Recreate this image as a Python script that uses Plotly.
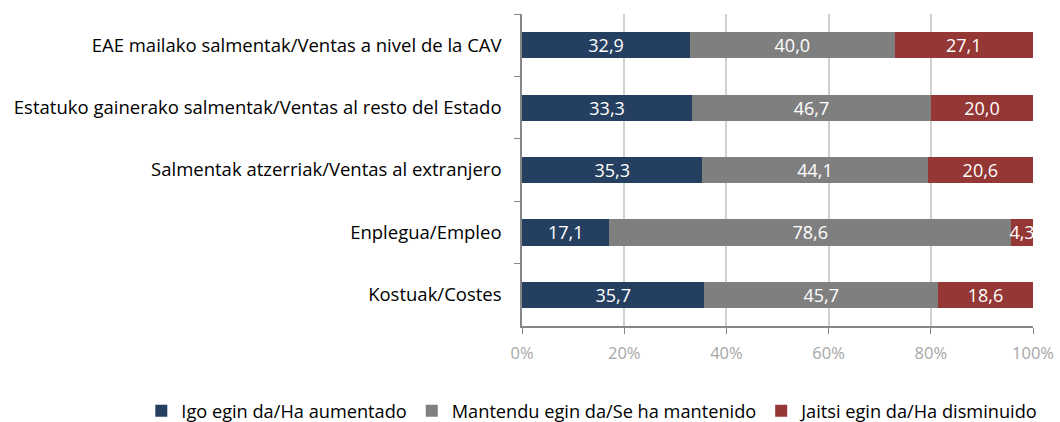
import plotly.graph_objects as go

categories = [
    "EAE mailako salmentak/Ventas a nivel de la CAV",
    "Estatuko gainerako salmentak/Ventas al resto del Estado",
    "Salmentak atzerriak/Ventas al extranjero",
    "Enplegua/Empleo",
    "Kostuak/Costes",
]
igo = [32.9, 33.3, 35.3, 17.1, 35.7]
mantendu = [40.0, 46.7, 44.1, 78.6, 45.7]
jaitsi = [27.1, 20.0, 20.6, 4.3, 18.6]

series_names = [
    "Igo egin da/Ha aumentado",
    "Mantendu egin da/Se ha mantenido",
    "Jaitsi egin da/Ha disminuido",
]
colors = ["#253F60", "#7F7F7F", "#953735"]
FONT = "Open Sans"

fig = go.Figure()
for name, vals, col in zip(series_names, [igo, mantendu, jaitsi], colors):
    fig.add_trace(go.Bar(
        y=categories, x=vals, name=name, orientation="h",
        marker=dict(color=col, line=dict(width=0)),
        texttemplate="%{x:.1f}", textposition="inside", textangle=0,
        insidetextanchor="middle", constraintext="none",
        textfont=dict(color="white", size=18, family=FONT),
    ))

fig.update_layout(
    barmode="stack",
    bargap=0.58,
    separators=",.",
    width=1060, height=422,
    margin=dict(l=522, r=27, t=14, b=96, autoexpand=False),
    plot_bgcolor="white", paper_bgcolor="white",
    font=dict(family=FONT, size=18, color="#000000"),
    legend=dict(orientation="h", xref="paper", x=-0.745, xanchor="left",
                yref="paper", y=-0.272, yanchor="middle",
                font=dict(size=18.2, color="#000000"), itemwidth=30,
                traceorder="normal"),
    xaxis=dict(range=[0, 100], tickvals=[0, 20, 40, 60, 80, 100],
               ticktext=["0%", "20%", "40%", "60%", "80%", "100%"],
               showgrid=True, gridcolor="#D0D0D0", gridwidth=1.5,
               showline=True, linecolor="#868686", linewidth=1.5,
               ticks="outside", ticklen=6, tickcolor="#868686",
               ticklabelstandoff=5,
               tickfont=dict(color="#A6A6A6", size=16.5, family=FONT),
               zeroline=False, automargin=False),
    yaxis=dict(autorange="reversed", showline=True, linecolor="#868686", linewidth=1.5,
               ticks="outside", ticklen=6, tickcolor="#868686", tickson="boundaries",
               ticklabelstandoff=15, automargin=False,
               tickfont=dict(color="#000000", size=18.5, family=FONT),
               showgrid=False),
)
fig.write_html("out.html", config={"displayModeBar": False},
               post_script="document.body.style.margin='0';")
